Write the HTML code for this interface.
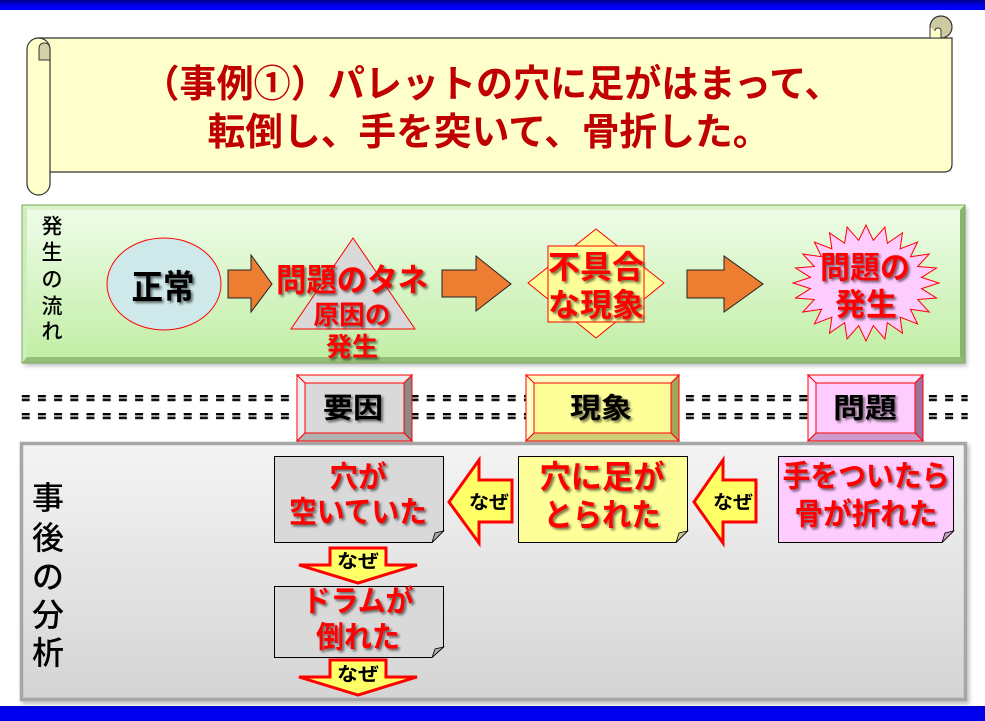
<!DOCTYPE html>
<html><head><meta charset="utf-8"><style>
html,body{margin:0;padding:0;background:#fff;}
svg{display:block;}
text{font-family:"Liberation Sans","Noto Sans CJK JP",sans-serif;}
</style></head><body>
<svg width="985" height="721" viewBox="0 0 985 721" xmlns="http://www.w3.org/2000/svg">
<defs>
  <linearGradient id="blue" x1="0" y1="0" x2="0" y2="1"><stop offset="0" stop-color="#00008a"/><stop offset="0.5" stop-color="#0000e6"/><stop offset="1" stop-color="#0000ff"/></linearGradient>
  <linearGradient id="blue2" x1="0" y1="0" x2="0" y2="1"><stop offset="0" stop-color="#0000c8"/><stop offset="0.3" stop-color="#0000f0"/><stop offset="1" stop-color="#0000ee"/></linearGradient>
  <linearGradient id="green" x1="0" y1="0" x2="0" y2="1"><stop offset="0" stop-color="#eefce8"/><stop offset="1" stop-color="#c2eea6"/></linearGradient>
  <linearGradient id="gray" x1="0" y1="0" x2="0" y2="1"><stop offset="0" stop-color="#f4f4f4"/><stop offset="1" stop-color="#d4d4d4"/></linearGradient>
  <filter id="sh" x="-10%" y="-20%" width="130%" height="150%"><feDropShadow dx="2" dy="2" stdDeviation="1.2" flood-color="#000" flood-opacity="0.55"/></filter>
  <filter id="psh" x="-5%" y="-5%" width="110%" height="115%"><feDropShadow dx="2" dy="3" stdDeviation="2" flood-color="#000" flood-opacity="0.25"/></filter>
  <pattern id="dp" x="21.7" y="395" width="16.2" height="18" patternUnits="userSpaceOnUse">
    <rect x="0" y="0" width="8" height="2" fill="#000"/>
    <rect x="0" y="2" width="8" height="2" fill="#9a9a9a"/>
    <rect x="0" y="4" width="8" height="2" fill="#111"/>
    <rect x="0" y="6" width="8" height="1" fill="#c8c8c8"/>
  </pattern>
</defs>

<!-- blue bars -->
<rect x="0" y="0" width="985" height="10" fill="url(#blue)"/>
<rect x="0" y="706" width="985" height="15" fill="url(#blue2)"/>

<!-- scroll -->
<path d="M38,38 H952 V164 Q952,172 944,172 H38 Z" fill="#ffffcc" stroke="#333" stroke-width="1.2"/>
<rect x="27" y="38" width="23" height="157" rx="11.5" ry="11.5" fill="#ffffcc" stroke="#333" stroke-width="1.2"/>
<path d="M50,50 V60 L39,60 V49 Q39,43 44.5,43 Q50,43 50,50 Z" fill="#d3cfa6" stroke="#333" stroke-width="1"/>
<circle cx="941" cy="27" r="11" fill="#cdc9a1" stroke="#333" stroke-width="1.2"/>
<path d="M930,27 V38 H941 V31 Q941,28 938,28 Q935,28 935,31" fill="#ffffcc" stroke="#333" stroke-width="1"/>
<text x="492" y="85" font-size="38" font-weight="700" fill="#c00000" text-anchor="middle" dominant-baseline="central" textLength="699" lengthAdjust="spacingAndGlyphs">（事例①）パレットの穴に足がはまって、</text>
<text x="489" y="133" font-size="38" font-weight="700" fill="#c00000" text-anchor="middle" dominant-baseline="central" textLength="563" lengthAdjust="spacingAndGlyphs">転倒し、手を突いて、骨折した。</text>

<!-- green panel -->
<g filter="url(#psh)">
<rect x="22" y="205" width="943" height="158" fill="#9fc883"/>
</g>
<polygon points="22,205 965,205 960,210 27,210" fill="#d9f2c9"/>
<polygon points="22,205 27,210 27,357 22,363" fill="#cfeebd"/>
<polygon points="965,205 965,363 960,357 960,210" fill="#8bb56d"/>
<polygon points="22,363 965,363 960,357 27,357" fill="#94bf78"/>
<rect x="27" y="210" width="933" height="147" fill="url(#green)"/>
<rect x="22" y="205" width="943" height="158" fill="none" stroke="#78aa5c" stroke-width="1"/>
<g font-size="21" fill="#000" text-anchor="middle" dominant-baseline="central" font-weight="500">
<text x="52" y="227">発</text><text x="52" y="253">生</text><text x="52" y="280">の</text><text x="52" y="307">流</text><text x="52" y="332">れ</text>
</g>

<!-- 正常 -->
<ellipse cx="164" cy="284" rx="57" ry="46" fill="#cfe8ea" stroke="#ff0000" stroke-width="1"/>
<text x="163" y="288" font-size="34" font-weight="700" fill="#000" text-anchor="middle" dominant-baseline="central" textLength="63" lengthAdjust="spacingAndGlyphs" filter="url(#sh)">正常</text>

<!-- arrows -->
<g fill="#ed7d31" stroke="#222" stroke-width="1">
<polygon points="228,270 251,270 251,255 272,284 251,312 251,298 228,298"/>
<polygon points="442,270 476,270 476,256 511,284 476,311 476,297 442,297"/>
<polygon points="687,270 724,270 724,256 763,284 724,312 724,298 687,298"/>
</g>

<!-- triangle -->
<polygon points="353,238 415,329 291,329" fill="#d9d9d9" stroke="#ff0000" stroke-width="1"/>
<g font-weight="700" fill="#ff0000" text-anchor="middle" dominant-baseline="central" filter="url(#sh)">
<text x="352" y="280" font-size="32" textLength="152" lengthAdjust="spacingAndGlyphs">問題のタネ</text>
<text x="352" y="315" font-size="26" textLength="77" lengthAdjust="spacingAndGlyphs">原因の</text>
<text x="352" y="347" font-size="26" textLength="52" lengthAdjust="spacingAndGlyphs">発生</text>
</g>

<!-- 不具合 -->
<polygon points="596,229 664,283 596,338 528,283" fill="#ffff99" stroke="#ff0000" stroke-width="1"/>
<rect x="548" y="246" width="96" height="76" fill="#ffff99" stroke="#ff0000" stroke-width="1"/>
<g font-weight="700" fill="#ff0000" text-anchor="middle" dominant-baseline="central" filter="url(#sh)" font-size="32">
<text x="596" y="267" textLength="96" lengthAdjust="spacingAndGlyphs">不具合</text>
<text x="596" y="305" textLength="96" lengthAdjust="spacingAndGlyphs">な現象</text>
</g>

<!-- starburst -->
<polygon fill="#ffccff" stroke="#ff0000" stroke-width="1" points="939,283 921.5,288.6 936.5,298 917.7,299.5 929.2,312 910.4,309.2 917.6,324 900.1,317.1 902.5,333.2 887.4,322.7 884.9,339 873.3,325.6 866,341 858.7,325.6 847.1,339 844.6,322.7 829.5,333.2 831.9,317.1 814.4,324 821.6,309.2 802.8,312 814.3,299.5 795.5,298 810.5,288.6 793,283 810.5,277.4 795.5,268 814.3,266.5 802.8,254 821.6,256.8 814.4,242 831.9,248.9 829.5,232.8 844.6,243.3 847.1,227 858.7,240.4 866,225 873.3,240.4 884.9,227 887.4,243.3 902.5,232.8 900.1,248.9 917.6,242 910.4,256.8 929.2,254 917.7,266.5 936.5,268 921.5,277.4"/>
<g font-weight="700" fill="#ff0000" text-anchor="middle" dominant-baseline="central" filter="url(#sh)" font-size="31">
<text x="865" y="268" textLength="90" lengthAdjust="spacingAndGlyphs">問題の</text>
<text x="866" y="305" textLength="62" lengthAdjust="spacingAndGlyphs">発生</text>
</g>

<!-- dashed double lines -->
<rect x="21.7" y="395" width="946" height="25" fill="url(#dp)"/>

<!-- buttons -->
<g stroke="#ff0000" stroke-width="1">
  <!-- 要因 -->
  <polygon points="297,375 412,375 404,383 305,383" fill="#ececec"/>
  <polygon points="297,375 305,383 305,433 297,441" fill="#efefef"/>
  <polygon points="412,375 412,441 404,433 404,383" fill="#8a8a8a"/>
  <polygon points="297,441 412,441 404,433 305,433" fill="#b2b2b2"/>
  <rect x="305" y="383" width="99" height="50" fill="#d9d9d9"/>
  <!-- 現象 -->
  <polygon points="526,375 679,375 671,383 534,383" fill="#ffffc4"/>
  <polygon points="526,375 534,383 534,433 526,441" fill="#ffffcc"/>
  <polygon points="679,375 679,441 671,433 671,383" fill="#a4a45c"/>
  <polygon points="526,441 679,441 671,433 534,433" fill="#cfcf7a"/>
  <rect x="534" y="383" width="137" height="50" fill="#ffff99"/>
  <!-- 問題 -->
  <polygon points="808,375 923,375 915,383 816,383" fill="#ffe2ff"/>
  <polygon points="808,375 816,383 816,433 808,441" fill="#ffe6ff"/>
  <polygon points="923,375 923,441 915,433 915,383" fill="#a0709e"/>
  <polygon points="808,441 923,441 915,433 816,433" fill="#cc9acc"/>
  <rect x="816" y="383" width="99" height="50" fill="#ffccff"/>
</g>
<g font-size="28" font-weight="700" fill="#000" text-anchor="middle" dominant-baseline="central" filter="url(#sh)">
<text x="353" y="408" textLength="60" lengthAdjust="spacingAndGlyphs">要因</text>
<text x="601" y="408" textLength="62" lengthAdjust="spacingAndGlyphs">現象</text>
<text x="865" y="408" textLength="64" lengthAdjust="spacingAndGlyphs">問題</text>
</g>

<!-- gray panel -->
<g filter="url(#psh)">
<rect x="21.5" y="443.5" width="944" height="256" fill="url(#gray)" stroke="#a6a6a6" stroke-width="3.5"/>
</g>
<g font-size="32" fill="#000" text-anchor="middle" dominant-baseline="central" font-weight="500">
<text x="48" y="498">事</text><text x="48" y="538">後</text><text x="48" y="577">の</text><text x="48" y="615">分</text><text x="48" y="653">析</text>
</g>

<!-- note boxes -->
<g stroke="#000" stroke-width="1">
<path d="M274.5,456.5 H443.5 V531 L432,542.5 H274.5 Z" fill="#d9d9d9"/>
<path d="M432,542.5 L435,533 L443.5,531 Z" fill="#aaaaaa" stroke-width="0.8"/>
<path d="M274.5,586.5 H443.5 V647 L432,657.5 H274.5 Z" fill="#d9d9d9"/>
<path d="M432,657.5 L435,649 L443.5,647 Z" fill="#aaaaaa" stroke-width="0.8"/>
<path d="M518.5,456.5 H687.5 V531 L676,542.5 H518.5 Z" fill="#ffff99"/>
<path d="M676,542.5 L679,533 L687.5,531 Z" fill="#c8c890" stroke-width="0.8"/>
<path d="M778.5,456.5 H953.5 V531 L942,542.5 H778.5 Z" fill="#ffccff"/>
<path d="M942,542.5 L945,533 L953.5,531 Z" fill="#c8a0c8" stroke-width="0.8"/>
</g>
<g font-weight="700" fill="#ff0000" text-anchor="middle" dominant-baseline="central" filter="url(#sh)" font-size="30">
<text x="358" y="478" textLength="57" lengthAdjust="spacingAndGlyphs">穴が</text>
<text x="358" y="513" textLength="138" lengthAdjust="spacingAndGlyphs">空いていた</text>
<text x="358" y="602" textLength="111" lengthAdjust="spacingAndGlyphs">ドラムが</text>
<text x="358" y="638" textLength="84" lengthAdjust="spacingAndGlyphs">倒れた</text>
<text x="602" y="477" font-size="32" textLength="125" lengthAdjust="spacingAndGlyphs">穴に足が</text>
<text x="602" y="515" font-size="32" textLength="117" lengthAdjust="spacingAndGlyphs">とられた</text>
<text x="866" y="477" textLength="167" lengthAdjust="spacingAndGlyphs">手をついたら</text>
<text x="866" y="515" textLength="143" lengthAdjust="spacingAndGlyphs">骨が折れた</text>
</g>

<!-- なぜ arrows -->
<g fill="#ffff66" stroke="#ff0000" stroke-width="3" stroke-linejoin="miter">
<polygon points="330,548 386,548 386,565 417,565 358,583 299,565 330,565"/>
<polygon points="330,660 386,660 386,677 417,677 358,695 299,677 330,677"/>
<polygon points="449,502 479,460 479,480 512,480 512,522 479,522 479,543"/>
<polygon points="694,502 723,460 723,480 756,480 756,522 723,522 723,543"/>
</g>
<g font-size="19" font-weight="700" fill="#000" text-anchor="middle" dominant-baseline="central">
<text x="358" y="562" textLength="42" lengthAdjust="spacingAndGlyphs">なぜ</text>
<text x="358" y="675" textLength="42" lengthAdjust="spacingAndGlyphs">なぜ</text>
<text x="489" y="503" textLength="40" lengthAdjust="spacingAndGlyphs">なぜ</text>
<text x="733" y="503" textLength="40" lengthAdjust="spacingAndGlyphs">なぜ</text>
</g>
</svg>
</body></html>
